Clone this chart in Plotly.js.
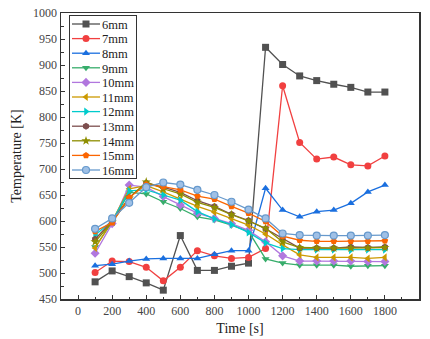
<!DOCTYPE html>
<html>
<head>
<meta charset="utf-8">
<script src="https://cdn.plot.ly/plotly-3.0.1.min.js"></script>
<style>html,body{margin:0;padding:0;background:#fff}#chart{width:430px;height:339px}</style>
</head>
<body>
<div id="chart"></div>
<script>
const time = [100,200,300,400,500,600,700,800,900,1000,1100,1200,1300,1400,1500,1600,1700,1800];
const seriesNames = ['6mm','7mm','8mm','9mm','10mm','11mm','12mm','13mm','14mm','15mm','16mm'];
const s6  = [483,504,493,481,467,572,505,505,513,519,934,901,879,870,863,857,848,848];
const s7  = [501,523,522,511,485,511,543,533,528,530,547,860,751,719,723,708,706,725];
const s8  = [514,517,523,527,528,528,528,536,543,543,663,621,608,618,621,634,656,669];
const s9  = [550,598,655,652,637,624,608,602,592,580,527,519,515,515,515,513,514,514];
const s10 = [538,595,669,665,647,631,615,605,595,582,560,533,523,523,523,523,522,522];
const s11 = [548,600,662,668,656,642,628,617,605,592,575,554,535,530,530,530,528,530];
const s12 = [573,600,658,660,650,640,618,604,593,578,558,547,545,545,545,544,545,545];
const s13 = [565,600,645,673,665,655,639,628,613,601,585,567,548,548,548,550,549,550];
const s14 = [560,598,644,675,662,652,636,626,612,600,586,560,549,548,548,548,548,549];
const s15 = [580,597,645,670,666,660,648,642,628,615,599,571,563,561,561,561,561,562];
const s16 = [585,605,635,665,674,670,660,650,637,622,605,576,573,572,572,572,572,573];
const allSeries = [s6,s7,s8,s9,s10,s11,s12,s13,s14,s15,s16];

const colors = ['#515151','#F14040','#1A6FDF','#37AD6B','#B177DE','#CC9900','#00CBCC','#7D4E4E','#8E8E00','#FB6501','#6699CC'];
const symbols = ['square','circle','triangle-up','triangle-down','diamond','triangle-left','triangle-right','hexagon','star','pentagon','circle'];

const traces = allSeries.map((ys, i) => ({
  x: time, y: ys, name: seriesNames[i], type: 'scatter', mode: 'lines+markers',
  line: {color: colors[i], width: 1.3},
  marker: {symbol: symbols[i], size: 7, color: i === 10 ? '#9fc0e6' : colors[i],
           line: {color: colors[i], width: i === 10 ? 1.2 : 0}}
}));

const font = {family: '"Liberation Serif", "Times New Roman", serif', color: '#222'};
const layout = {
  width: 430, height: 339,
  margin: {l: 61, r: 11, t: 13, b: 40},
  paper_bgcolor: '#fff', plot_bgcolor: '#fff',
  font: Object.assign({}, font, {size: 12}),
  showlegend: true,
  legend: {x: 0.027, y: 0.986, xanchor: 'left', yanchor: 'top',
           bordercolor: '#333', borderwidth: 1, bgcolor: '#fff',
           font: Object.assign({}, font, {size: 12.5}), itemwidth: 30,
           tracegroupgap: 0},
  xaxis: {range: [-100, 2000], tickvals: [0,200,400,600,800,1000,1200,1400,1600,1800,2000],
          ticks: 'inside', ticklen: 4, tickwidth: 1, tickcolor: '#333',
          minor: {dtick: 100, ticks: 'inside', ticklen: 2.5, tickcolor: '#333'},
          showline: true, linecolor: '#333', linewidth: 1.5, mirror: true,
          showgrid: false, zeroline: false,
          tickfont: Object.assign({}, font, {size: 12, color: '#444'}),
          title: {text: 'Time [s]', font: Object.assign({}, font, {size: 14}), standoff: 6}},
  yaxis: {range: [450, 1000], dtick: 50,
          ticks: 'inside', ticklen: 4, tickwidth: 1, tickcolor: '#333',
          minor: {dtick: 25, ticks: 'inside', ticklen: 2.5, tickcolor: '#333'},
          showline: true, linecolor: '#333', linewidth: 1.5, mirror: true,
          showgrid: false, zeroline: false,
          tickfont: Object.assign({}, font, {size: 12, color: '#444'}),
          title: {text: 'Temperature [K]', font: Object.assign({}, font, {size: 14}), standoff: 8}}
};
Plotly.newPlot('chart', traces, layout, {displayModeBar: false, staticPlot: true}).then(gd => {
  // compact the legend rows to match the reference spacing
  const lg = gd.querySelector('.legend');
  if (!lg) return;
  const step = 14.6, top = 9;
  lg.setAttribute('transform', 'translate(69,15)');
  const items = lg.querySelectorAll('.traces');
  items.forEach((g, i) => {
    g.setAttribute('transform', `translate(0,${top + i*step})`);
    g.querySelectorAll('.legendlines path').forEach(p => p.setAttribute('d', 'M3,0h28'));
    g.querySelectorAll('.legendpoints path').forEach(p => p.setAttribute('transform', 'translate(17,0)'));
    const t = g.querySelector('text.legendtext');
    if (t) t.setAttribute('x', 33);
  });
  const bg = lg.querySelector('rect.bg');
  if (bg) { bg.setAttribute('x', 0.5); bg.setAttribute('y', 0.5); bg.setAttribute('height', top + (items.length-1)*step + 8); bg.setAttribute('width', 67); }
  const sb = lg.querySelector('.scrollbox');
  if (sb) sb.setAttribute('transform', 'translate(0,0)');
});
</script>
</body>
</html>
